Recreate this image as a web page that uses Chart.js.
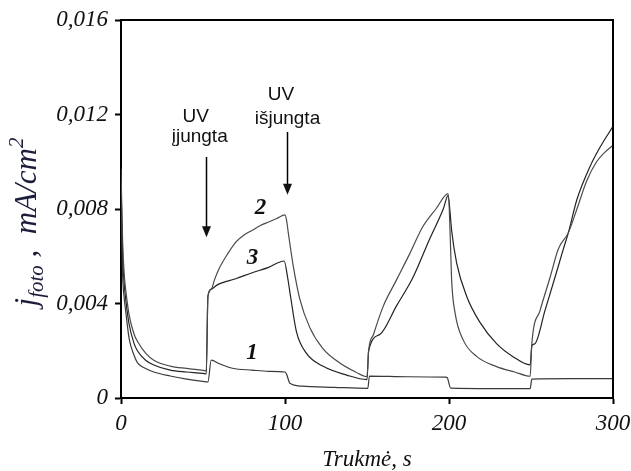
<!DOCTYPE html>
<html>
<head>
<meta charset="utf-8">
<script src="https://cdn.jsdelivr.net/npm/chart.js@4.4.1/dist/chart.umd.min.js"></script>
<style>
  html, body { margin: 0; padding: 0; background: #fff; }
</style>
</head>
<body>
<canvas id="foto-chart" width="631" height="471"></canvas>
<script>
// axis ticks
const xTickValues = [0, 100, 200, 300];
const xTickLabels = ['0', '100', '200', '300'];
const yTickValues = [0, 0.004, 0.008, 0.012, 0.016];
const yTickLabels = ['0', '0,004', '0,008', '0,012', '0,016'];

// curve 1
const curve1Time = [0, 1, 2, 3, 5, 8, 10, 15, 20, 30, 40, 50, 53, 55, 60, 68, 80, 90, 100, 101,
  103, 110, 130, 150.5, 151.5, 175, 198, 199, 201, 225, 249.5, 250.5, 275, 300];
const curve1Current = [0.0085, 0.0052, 0.0042, 0.0036, 0.0025, 0.0018, 0.0015, 0.00125, 0.0011, 0.00093,
  0.0008, 0.0007, 0.00068, 0.0016, 0.00145, 0.00126, 0.00118, 0.00113, 0.0011, 0.001,
  0.00062, 0.0005, 0.00045, 0.00041, 0.00093, 0.0009, 0.00088, 0.00085, 0.00042, 0.0004,
  0.0004, 0.0008, 0.00082, 0.00082];

// curve 2
const curve2Time = [0, 1, 2, 3, 5, 8, 10, 15, 20, 30, 40, 50, 52, 53, 55, 57, 60, 65, 70, 75,
  80, 85, 90, 95, 100, 101, 102, 105, 109, 115, 123, 133, 143, 150, 151, 154, 160, 168, 176, 184,
  192, 199.5, 201, 201.6, 203.7, 208.7, 217, 229, 240, 249.5,
  250.5, 255.5, 261.6, 266.6, 272.8, 278, 284, 290, 295, 300];
const curve2Current = [0.0097, 0.0066, 0.0052, 0.0045, 0.0035, 0.0027, 0.0024, 0.0019, 0.0016, 0.00135,
  0.00125, 0.00117, 0.00115, 0.0043, 0.0046, 0.005, 0.0055, 0.0061, 0.0066, 0.0069,
  0.0071, 0.0073, 0.00745, 0.0076, 0.00775, 0.0075, 0.007, 0.0056, 0.0042, 0.003,
  0.0021, 0.0015, 0.0011, 0.0009, 0.002, 0.0027, 0.0039, 0.005, 0.0061, 0.00725,
  0.008, 0.00865, 0.0063, 0.005, 0.0036, 0.00245, 0.00175, 0.00133, 0.0011, 0.00092,
  0.0023, 0.0037, 0.0051, 0.0063, 0.007, 0.008, 0.0092, 0.01, 0.0104, 0.0107];

// curve 3
const curve3Time = [0, 1, 2, 3, 5, 8, 10, 15, 20, 30, 40, 50, 52, 53, 55, 59, 70, 80, 90, 99.5,
  101.6, 103.6, 107, 113, 123, 137.6, 150, 151, 158, 168, 178, 188, 196.5, 199.5, 200.6, 201.6,
  204.7, 210.8, 218.9, 229, 239, 249.5, 250.5, 252.4, 258.5, 264.6, 269.7, 272.8, 278, 286, 292, 300];
const curve3Current = [0.0092, 0.006, 0.0048, 0.0041, 0.0031, 0.0023, 0.002, 0.0016, 0.0014, 0.00118,
  0.0011, 0.00104, 0.00102, 0.0043, 0.0046, 0.0048, 0.00505, 0.0053, 0.00553, 0.0058,
  0.0051, 0.0042, 0.0028, 0.0019, 0.00135, 0.00097, 0.00078, 0.002, 0.0027, 0.0039,
  0.0051, 0.0067, 0.008, 0.00858, 0.0079, 0.0071, 0.0057, 0.0043, 0.0032, 0.0023,
  0.00175, 0.0014, 0.0022, 0.0023, 0.0037, 0.0051, 0.0063, 0.007, 0.0084, 0.0098,
  0.0106, 0.0115];

const toPoints = (ts, vs) => ts.map((t, i) => ({ x: t, y: vs[i] }));

const serif = '"Liberation Serif", "Times New Roman", serif';
const sans = '"Liberation Sans", Arial, sans-serif';

// UV markers and curve numbers, in data units
const uvNotes = [
  { lines: ['UV', 'įjungta'], x: [45.5, 48], y: [0.01168, 0.01084], arrowX: 52, arrowFrom: 0.0102, arrowTo: 0.0068 },
  { lines: ['UV', 'išjungta'], x: [97.5, 101.5], y: [0.01261, 0.0116], arrowX: 101, arrowFrom: 0.01126, arrowTo: 0.0086 }
];
const curveNames = [
  { text: '2', x: 85, y: 0.00806 },
  { text: '3', x: 80.2, y: 0.00593 },
  { text: '1', x: 79.9, y: 0.0019 }
];

const decor = {
  id: 'decor',
  afterDraw(chart) {
    const { ctx, chartArea: a, scales: { x, y } } = chart;
    ctx.save();

    // top and right frame
    ctx.strokeStyle = '#000';
    ctx.lineWidth = 2;
    ctx.beginPath();
    ctx.moveTo(a.left, a.top);
    ctx.lineTo(a.right, a.top);
    ctx.lineTo(a.right, a.bottom);
    ctx.stroke();

    // UV notes with arrows
    ctx.fillStyle = '#111';
    ctx.textAlign = 'center';
    ctx.textBaseline = 'alphabetic';
    ctx.font = '19px ' + sans;
    uvNotes.forEach(n => {
      n.lines.forEach((s, i) => ctx.fillText(s, x.getPixelForValue(n.x[i]), y.getPixelForValue(n.y[i])));
      const ax = Math.round(x.getPixelForValue(n.arrowX)) + 0.5;
      const y0 = y.getPixelForValue(n.arrowFrom);
      const y1 = y.getPixelForValue(n.arrowTo);
      ctx.lineWidth = 1.5;
      ctx.beginPath();
      ctx.moveTo(ax, y0);
      ctx.lineTo(ax, y1 - 8);
      ctx.stroke();
      ctx.beginPath();
      ctx.moveTo(ax - 4.5, y1 - 11);
      ctx.lineTo(ax + 4.5, y1 - 11);
      ctx.lineTo(ax, y1);
      ctx.closePath();
      ctx.fill();
    });

    // curve numbers
    ctx.font = 'italic bold 23px ' + serif;
    ctx.textBaseline = 'middle';
    curveNames.forEach(c => ctx.fillText(c.text, x.getPixelForValue(c.x), y.getPixelForValue(c.y)));

    // x title
    ctx.font = 'italic 23px ' + serif;
    ctx.textBaseline = 'alphabetic';
    ctx.fillText('Trukmė, s', (a.left + a.right) / 2, 466);

    // y title: j_foto , mA/cm^2
    const parts = [
      { s: 'j', size: 31, dy: 0 },
      { s: 'foto', size: 21, dy: 7 },
      { s: ' ,  ', size: 31, dy: 0 },
      { s: 'mA/cm', size: 31, dy: 0 },
      { s: '2', size: 21, dy: -13 }
    ];
    let total = 0;
    parts.forEach(p => { ctx.font = 'italic ' + p.size + 'px ' + serif; p.w = ctx.measureText(p.s).width; total += p.w; });
    ctx.translate(36, 222);
    ctx.rotate(-Math.PI / 2);
    ctx.fillStyle = '#1c1c3c';
    ctx.textAlign = 'left';
    let pos = -total / 2;
    parts.forEach(p => {
      ctx.font = 'italic ' + p.size + 'px ' + serif;
      ctx.fillText(p.s, pos, p.dy);
      pos += p.w;
    });
    ctx.restore();
  }
};

const lineStyle = {
  borderWidth: 1.2,
  pointRadius: 0,
  fill: false,
  cubicInterpolationMode: 'monotone'
};

let chart = new Chart(document.getElementById('foto-chart').getContext('2d'), {
  type: 'line',
  data: {
    datasets: [
      { ...lineStyle, label: '1', data: toPoints(curve1Time, curve1Current), borderColor: '#3a3a3a' },
      { ...lineStyle, label: '2', data: toPoints(curve2Time, curve2Current), borderColor: '#4a4a4a' },
      { ...lineStyle, label: '3', data: toPoints(curve3Time, curve3Current), borderColor: '#222' }
    ]
  },
  options: {
    responsive: false,
    animation: false,
    layout: { padding: { top: 20, right: 18, left: 0, bottom: 0 } },
    plugins: {
      legend: { display: false },
      tooltip: { enabled: false }
    },
    scales: {
      x: {
        type: 'linear',
        min: 0,
        max: 300,
        afterFit: s => { s.height = 73; s.paddingLeft = 0; s.paddingRight = 0; },
        afterBuildTicks: s => { s.ticks = xTickValues.map(v => ({ value: v })); },
        ticks: {
          callback: v => xTickLabels[xTickValues.indexOf(v)],
          color: '#111',
          padding: 6,
          maxRotation: 0,
          font: { family: serif, size: 23, style: 'italic' }
        },
        grid: { drawOnChartArea: false, drawTicks: true, tickLength: 6, color: '#000', tickWidth: 2 },
        border: { color: '#000', width: 2 }
      },
      y: {
        min: 0,
        max: 0.016,
        afterFit: s => { s.width = 121; s.paddingTop = 0; s.paddingBottom = 0; },
        afterBuildTicks: s => { s.ticks = yTickValues.map(v => ({ value: v })); },
        ticks: {
          callback: v => yTickLabels[yTickValues.indexOf(v)],
          color: '#111',
          padding: 7,
          font: { family: serif, size: 23, style: 'italic' }
        },
        grid: { drawOnChartArea: false, drawTicks: true, tickLength: 6, color: '#000', tickWidth: 2 },
        border: { color: '#000', width: 2 }
      }
    }
  },
  plugins: [decor]
});
</script>
</body>
</html>
